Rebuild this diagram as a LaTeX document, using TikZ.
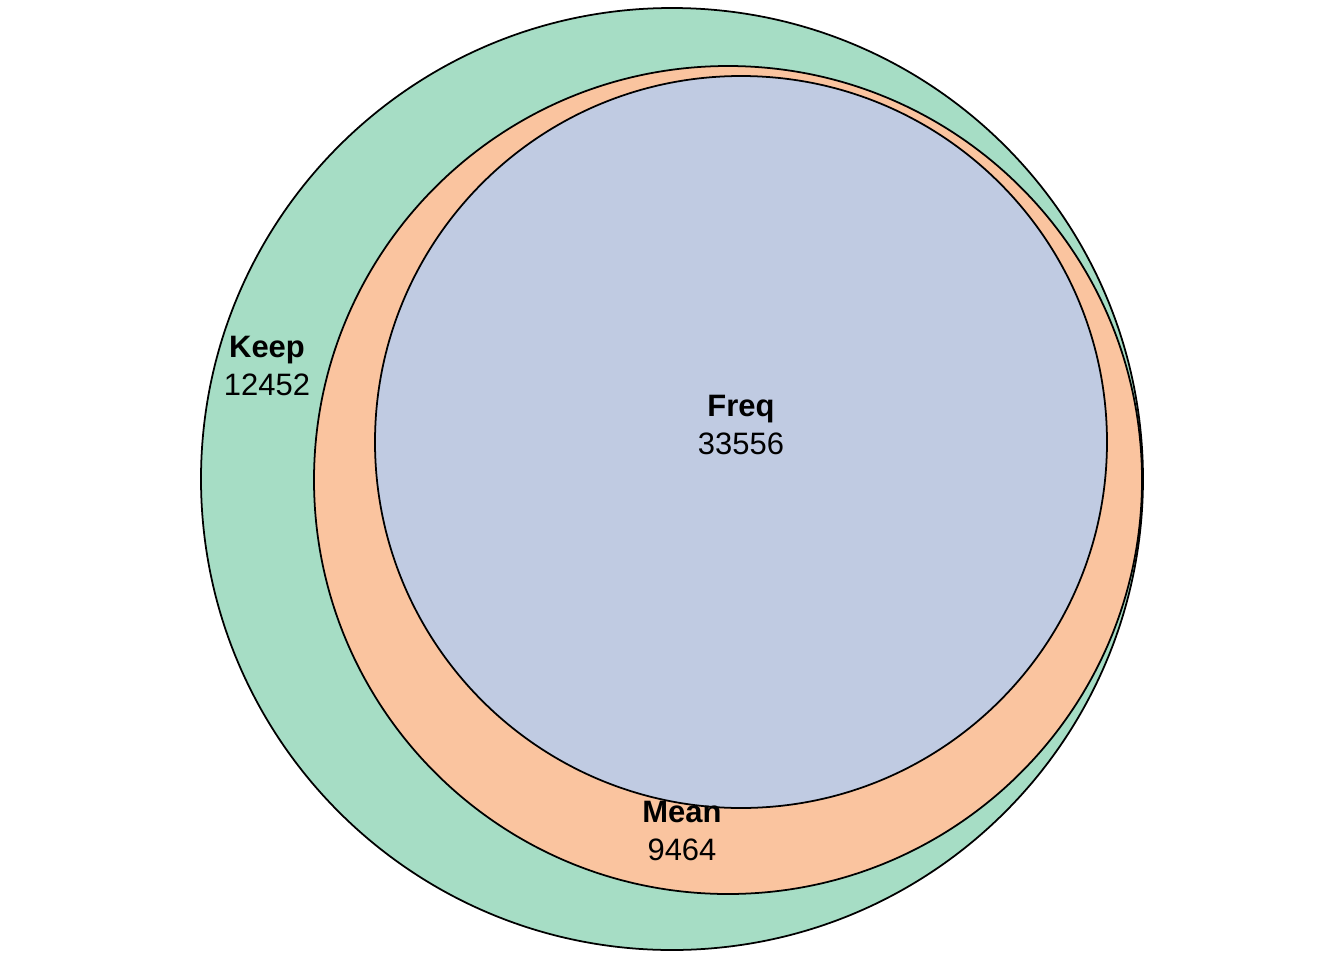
\documentclass[tikz,border=0pt]{standalone}
\usepackage{fontspec}
\setmainfont{Liberation Sans}
\usepackage{xcolor}
\usepackage{tikz}
\usetikzlibrary{positioning}

\definecolor{keepgreen}{HTML}{A6DDC5}
\definecolor{meanorange}{HTML}{FAC49F}
\definecolor{freqblue}{HTML}{C0CBE2}

\begin{document}
\begin{tikzpicture}[x=0.01cm, y=-0.01cm,
  setcirc/.style={draw=black, line width=0.5pt},
  setlabel/.style={font=\fontsize{8.8}{10.6}\selectfont, align=center, inner sep=0pt}]
\useasboundingbox (0,0) rectangle (1344,960);
% Sets
\filldraw[setcirc, fill=keepgreen] (672,479) circle (471);
\filldraw[setcirc, fill=meanorange] (728,480) circle (414);
\filldraw[setcirc, fill=freqblue] (741,442) circle (366);
% Labels
\node[setlabel] (keep) at (267,366) {\textbf{Keep}\\12452};
\node[setlabel] (freq) at (741,425) {\textbf{Freq}\\33556};
\node[setlabel] (mean) at (682,831) {\textbf{Mean}\\9464};
\end{tikzpicture}
\end{document}
